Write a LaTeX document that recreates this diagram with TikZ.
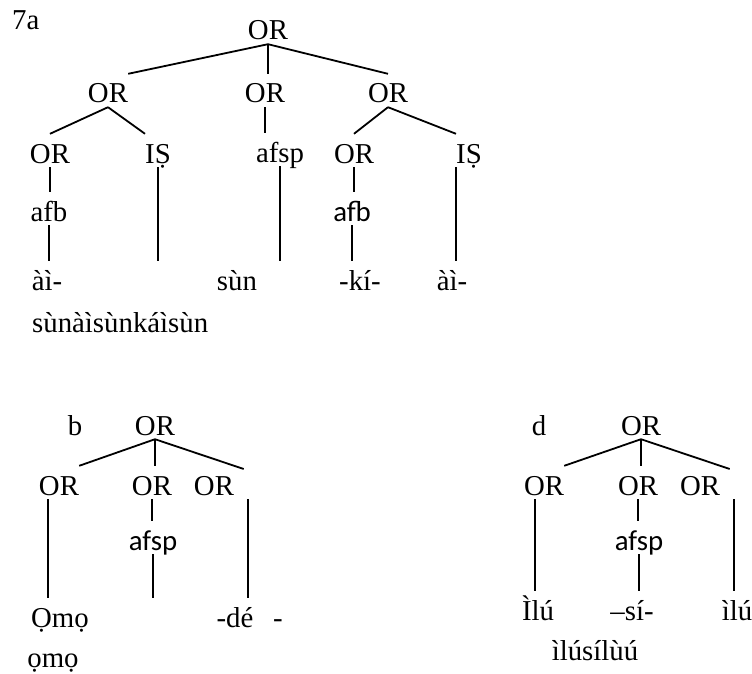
\documentclass[tikz,border=0pt]{standalone}
\usepackage{fontspec}
\setmainfont{Liberation Serif}
\newfontfamily\calibfont{Carlito}
\usepackage{tikz}
\usetikzlibrary{positioning}
\tikzset{
    treenode/.style = {anchor=base, inner sep=0pt, text height=29pt, text depth=4pt, font=\fontsize{28.8}{34}\selectfont},
    treenodes/.style = {treenode, font=\fontsize{28.8}{34}\selectfont\calibfont},
    branch/.style = {line width=1.8pt, black},
}

\begin{document}
\begin{tikzpicture}[x=1pt,y=-1pt]
\useasboundingbox (0,0) rectangle (752,674);
% 7a
\node[treenode,anchor=base west] at (12, 30) (t7a) {7a};
\node[treenode] at (268, 40) (root) {OR};
\node[treenode] at (108,103) (or2a) {OR};
\node[treenode] at (265,103) (or2b) {OR};
\node[treenode] at (388,103) (or2c) {OR};
\node[treenode] at ( 50,163) (or3a) {OR};
\node[treenode] at (158,163) (is1) {IṢ};
\node[treenode] at (280,162) (afsp1) {afsp};
\node[treenode] at (354,163) (or3c) {OR};
\node[treenode] at (469,163) (is2) {IṢ};
\node[treenode] at ( 49,221) (afb1) {afb};
\node[treenodes] at (352,221) (afb2) {afb};
\node[treenode] at ( 47,290) (ai1) {àì-};
\node[treenode] at (237,290) (sun) {sùn};
\node[treenode] at (360,290) (ki) {-kí-};
\node[treenode] at (452,290) (ai2) {àì-};
\node[treenode,anchor=base west] at (32,332) (word1) {sùnàìsùnkáìsùn};
%
\draw[branch] (root.south) -- (or2a.north east);
\draw[branch] (root.south) -- (root.south |- or2b.north);
\draw[branch] (root.south) -- (or2c.north);
\draw[branch] (or2a.south) -- (or3a.north);
\draw[branch] (or2a.south) -- (is1.north west);
\draw[branch] (or2b.south) -- (or2b.south |- afsp1.north);
\draw[branch] (afsp1.south) -- (afsp1.south |- sun.north);
\draw[branch] (or3a.south) -- (or3a.south |- afb1.north);
\draw[branch] (afb1.south) -- (afb1.south |- ai1.north);
\draw[branch] (is1.south) -- (is1.south |- ai1.north);
\draw[branch] (or2c.south) -- (or3c.north);
\draw[branch] (or2c.south) -- (is2.north west);
\draw[branch] (or3c.south) -- (or3c.south |- afb2.north);
\draw[branch] (afb2.south) -- (afb2.south |- ki.north);
\draw[branch] (is2.south west) -- (is2.south west |- ai2.north);
% b
\node[treenode] at ( 75,435) (tb) {b};
\node[treenode] at (155,435) (rootb) {OR};
\node[treenode] at ( 59,495) (orb1) {OR};
\node[treenode] at (152,495) (orb2) {OR};
\node[treenode] at (214,495) (orb3) {OR};
\node[treenodes] at (153,550) (afspb) {afsp};
\node[treenode] at ( 60,627) (omo) {Ọmọ};
\node[treenode] at (235,627) (de) {-dé};
\node[treenode] at (278,627) (dash) {-};
\node[treenode] at ( 53,667) (omo2) {ọmọ};
%
\draw[branch] (rootb.south) -- (orb1.north east);
\draw[branch] (rootb.south) -- (rootb.south |- orb2.north);
\draw[branch,shorten >=-10pt] (rootb.south) -- (orb3.north east);
\draw[branch] ([xshift=-11pt]orb1.south) -- ([xshift=-11pt]orb1.south |- omo.north);
\draw[branch] (orb2.south) -- (orb2.south |- afspb.north);
\draw[branch] (afspb.south) -- (afspb.south |- omo.north);
\draw[branch] ([xshift=14pt]orb3.south east) -- ([xshift=14pt]orb3.south east |- de.north);
% d
\node[treenode] at (539,435) (td) {d};
\node[treenode] at (641,435) (rootd) {OR};
\node[treenode] at (544,495) (ord1) {OR};
\node[treenode] at (638,495) (ord2) {OR};
\node[treenode] at (700,495) (ord3) {OR};
\node[treenodes] at (639,550) (afspd) {afsp};
\node[treenode] at (538,620) (ilu1) {Ìlú};
\node[treenode] at (632,620) (si) {–sí-};
\node[treenode] at (737,620) (ilu2) {ìlú};
\node[treenode] at (595,660) (word3) {ìlúsílùú};
%
\draw[branch] (rootd.south) -- (ord1.north east);
\draw[branch] (rootd.south) -- (rootd.south |- ord2.north);
\draw[branch,shorten >=-10pt] (rootd.south) -- (ord3.north east);
\draw[branch] ([xshift=-9pt]ord1.south) -- ([xshift=-9pt]ord1.south |- ilu1.north);
\draw[branch] (ord2.south) -- (ord2.south |- afspd.north);
\draw[branch] (afspd.south) -- (afspd.south |- si.north);
\draw[branch] ([xshift=14pt]ord3.south east) -- ([xshift=14pt]ord3.south east |- ilu2.north);
\end{tikzpicture}
\end{document}
